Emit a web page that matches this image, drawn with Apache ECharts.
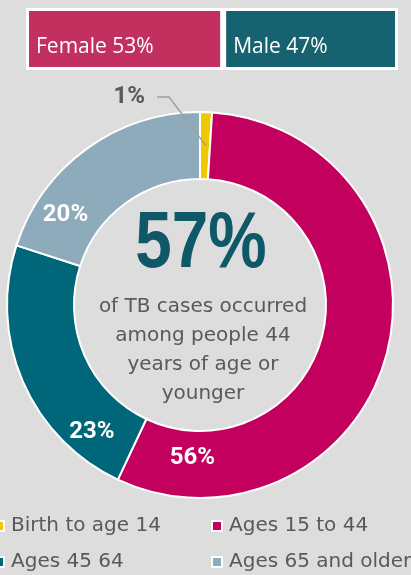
<!DOCTYPE html>
<html>
<head>
<meta charset="utf-8">
<script src="https://cdn.jsdelivr.net/npm/echarts@6/dist/echarts.min.js"></script>
<style>
  html, body { margin: 0; padding: 0; background: #dddddd; }
  #main { width: 411px; height: 575px; }
</style>
</head>
<body>
<div id="main"></div>
<script>
// share of TB cases by sex (top bar)
const sexGroups = ['Female', 'Male'];
const sexPercents = [53, 47];

// share of TB cases by age group (donut)
const ageGroups = ['Birth to age 14', 'Ages 15 to 44', 'Ages 45 64', 'Ages 65 and older'];
const agePercents = [1, 56, 23, 20];

const centerValue = '57%';
const centerLines = ['of TB cases occurred', 'among people 44', 'years of age or', 'younger'];

const sexColors = ['#c2305f', '#176270'];
const ageColors = ['#f0c800', '#c4005e', '#00667a', '#8eabbb'];

const chart = echarts.init(document.getElementById('main'));

// labels in the ring sit off the middle of their slices, as in the original
const insideShift = {
  1: { dx: -165, dy: 113 },
  2: { dx: 41, dy: 62 },
  3: { dx: -39, dy: 41 }
};

const legendText = { fontFamily: 'DejaVu Sans', fontSize: 20, lineHeight: 24, color: '#595959', padding: [0, 0, 0, 2] };
const pieCenter = [200, 305];
const pieRadius = [126, 193];

const option = {
  backgroundColor: '#dddddd',
  // big number in the hole, squeezed like the condensed face of the original
  graphic: [
    {
      type: 'text',
      x: 201, y: 244.5,
      scaleX: 0.82,
      silent: true,
      style: {
        text: centerValue,
        align: 'center', verticalAlign: 'middle',
        font: "bold 80px 'Liberation Sans', sans-serif",
        fill: '#0f5868'
      }
    }
  ],
  title: {
    text: centerLines.join('\n'),
    left: 203, top: 292, padding: 0,
    textAlign: 'center', textVerticalAlign: 'top',
    textStyle: {
      fontFamily: 'DejaVu Sans', fontWeight: 'normal',
      fontSize: 20, lineHeight: 29, color: '#595959'
    }
  },
  legend: [
    {
      data: [ageGroups[0], ageGroups[2]],
      orient: 'vertical', left: -7, top: 514, padding: 0,
      itemWidth: 10, itemHeight: 10, itemGap: 12, icon: 'rect',
      itemStyle: { borderColor: '#ffffff', borderWidth: 2 },
      textStyle: legendText
    },
    {
      data: [ageGroups[1], ageGroups[3]],
      orient: 'vertical', left: 211, top: 514, padding: 0,
      itemWidth: 10, itemHeight: 10, itemGap: 12, icon: 'rect',
      itemStyle: { borderColor: '#ffffff', borderWidth: 2 },
      textStyle: legendText
    }
  ],
  grid: { left: 26, top: 8, width: 372, height: 62 },
  xAxis: { type: 'value', min: 0, max: 100, show: false },
  yAxis: { type: 'category', data: ['all'], show: false },
  series: [
    ...sexGroups.map((name, i) => ({
      type: 'bar',
      name: name,
      stack: 'sex',
      barWidth: '100%',
      data: [sexPercents[i]],
      silent: true,
      itemStyle: { color: sexColors[i], borderColor: '#ffffff', borderWidth: 3 },
      label: {
        show: true,
        position: [10, 39],
        align: 'left', verticalAlign: 'middle',
        formatter: '{a} {c}%',
        fontFamily: "'Open Sans', sans-serif",
        fontSize: 21, color: '#ffffff'
      }
    })),
    {
      type: 'pie',
      center: pieCenter,
      radius: pieRadius,
      startAngle: 90,
      clockwise: true,
      avoidLabelOverlap: false,
      silent: true,
      itemStyle: { borderColor: '#ffffff', borderWidth: 2 },
      label: {
        show: true,
        position: 'inside',
        formatter: '{c}%',
        fontFamily: 'Roboto',
        fontWeight: 'bold', fontSize: 24, color: '#ffffff'
      },
      labelLine: { show: false },
      labelLayout: function (params) {
        return insideShift[params.dataIndex];
      },
      data: ageGroups.map((name, i) => ({
        name: name,
        value: agePercents[i],
        itemStyle: { color: ageColors[i] },
        label: { show: i !== 0 }
      }))
    },
    // same ring, invisible, drawn on top only to carry the callout of the small slice
    {
      type: 'pie',
      z: 3,
      center: pieCenter,
      radius: pieRadius,
      startAngle: 90,
      clockwise: true,
      avoidLabelOverlap: false,
      silent: true,
      itemStyle: { color: 'rgba(0,0,0,0)', borderWidth: 0 },
      label: {
        show: true,
        position: 'outside',
        formatter: '{c}%',
        fontFamily: 'Roboto',
        fontWeight: 'bold', fontSize: 24, color: '#595959'
      },
      labelLine: { show: true, lineStyle: { color: '#a0a0a0', width: 1.5 } },
      labelLayout: function (params) {
        const r = params.rect;
        const lx = r.x - 55;
        const ly = r.y - 15;
        return {
          x: lx, y: ly, align: 'right', verticalAlign: 'middle',
          labelLinePoints: [
            [r.x + r.width / 2, r.y + r.height / 2],
            [lx + 24, ly],
            [lx + 12, ly]
          ]
        };
      },
      data: ageGroups.map((name, i) => ({
        name: name,
        value: agePercents[i],
        label: { show: i === 0 },
        labelLine: { show: i === 0 }
      }))
    }
  ]
};

chart.setOption(option);
</script>
</body>
</html>
